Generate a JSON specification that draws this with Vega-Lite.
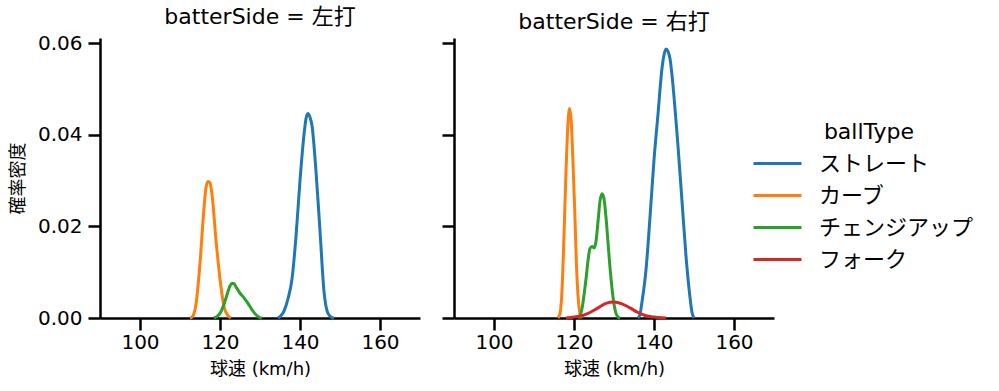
{
  "$schema": "https://vega.github.io/schema/vega-lite/v6.json",
  "background": "white",
  "padding": {"left": 9, "top": 6, "right": 0, "bottom": 0},
  "config": {
    "font": "DejaVu Sans, Noto Sans CJK JP",
    "view": {"stroke": null},
    "axis": {
      "grid": false,
      "domainColor": "black",
      "domainWidth": 2.5,
      "tickColor": "black",
      "tickWidth": 2.5,
      "tickSize": 12,
      "labelFontSize": 20,
      "labelColor": "black",
      "labelFont": "DejaVu Sans, Noto Sans CJK JP",
      "titleFont": "DejaVu Sans, Noto Sans CJK JP",
      "titleFontSize": 18,
      "titleFontWeight": "normal",
      "titleColor": "black"
    },
    "axisX": {"labelPadding": 2, "titlePadding": 8},
    "axisY": {"labelPadding": 6, "titlePadding": 10},
    "title": {"fontSize": 22, "fontWeight": "normal", "color": "black", "offset": 0, "font": "DejaVu Sans, Noto Sans CJK JP"},
    "legend": {"titleFont": "DejaVu Sans, Noto Sans CJK JP", "labelFont": "DejaVu Sans, Noto Sans CJK JP"}
  },
  "data": {
    "values": [
      {"batterSide": "左打", "ballType": "ストレート", "speed": 134.5, "density": 0},
      {"batterSide": "左打", "ballType": "ストレート", "speed": 135, "density": 0.0003},
      {"batterSide": "左打", "ballType": "ストレート", "speed": 136, "density": 0.0015},
      {"batterSide": "左打", "ballType": "ストレート", "speed": 137, "density": 0.0042},
      {"batterSide": "左打", "ballType": "ストレート", "speed": 138, "density": 0.0085},
      {"batterSide": "左打", "ballType": "ストレート", "speed": 139, "density": 0.0178},
      {"batterSide": "左打", "ballType": "ストレート", "speed": 140, "density": 0.030},
      {"batterSide": "左打", "ballType": "ストレート", "speed": 141, "density": 0.040},
      {"batterSide": "左打", "ballType": "ストレート", "speed": 141.5, "density": 0.0435},
      {"batterSide": "左打", "ballType": "ストレート", "speed": 142, "density": 0.0446},
      {"batterSide": "左打", "ballType": "ストレート", "speed": 142.5, "density": 0.0438},
      {"batterSide": "左打", "ballType": "ストレート", "speed": 143, "density": 0.042},
      {"batterSide": "左打", "ballType": "ストレート", "speed": 144, "density": 0.032},
      {"batterSide": "左打", "ballType": "ストレート", "speed": 145, "density": 0.019},
      {"batterSide": "左打", "ballType": "ストレート", "speed": 146, "density": 0.0058},
      {"batterSide": "左打", "ballType": "ストレート", "speed": 147, "density": 0.0010},
      {"batterSide": "左打", "ballType": "ストレート", "speed": 148, "density": 0.0001},
      {"batterSide": "左打", "ballType": "ストレート", "speed": 148.5, "density": 0},
      {"batterSide": "左打", "ballType": "カーブ", "speed": 112.5, "density": 0},
      {"batterSide": "左打", "ballType": "カーブ", "speed": 113, "density": 0.0002},
      {"batterSide": "左打", "ballType": "カーブ", "speed": 114, "density": 0.003},
      {"batterSide": "左打", "ballType": "カーブ", "speed": 115, "density": 0.012},
      {"batterSide": "左打", "ballType": "カーブ", "speed": 116, "density": 0.024},
      {"batterSide": "左打", "ballType": "カーブ", "speed": 116.5, "density": 0.0285},
      {"batterSide": "左打", "ballType": "カーブ", "speed": 117, "density": 0.0298},
      {"batterSide": "左打", "ballType": "カーブ", "speed": 117.5, "density": 0.0295},
      {"batterSide": "左打", "ballType": "カーブ", "speed": 118, "density": 0.027},
      {"batterSide": "左打", "ballType": "カーブ", "speed": 119, "density": 0.017},
      {"batterSide": "左打", "ballType": "カーブ", "speed": 120, "density": 0.0085},
      {"batterSide": "左打", "ballType": "カーブ", "speed": 121, "density": 0.0025},
      {"batterSide": "左打", "ballType": "カーブ", "speed": 122, "density": 0.0005},
      {"batterSide": "左打", "ballType": "カーブ", "speed": 122.7, "density": 0},
      {"batterSide": "左打", "ballType": "チェンジアップ", "speed": 118.5, "density": 0},
      {"batterSide": "左打", "ballType": "チェンジアップ", "speed": 119, "density": 0.0002},
      {"batterSide": "左打", "ballType": "チェンジアップ", "speed": 120, "density": 0.001},
      {"batterSide": "左打", "ballType": "チェンジアップ", "speed": 121, "density": 0.003},
      {"batterSide": "左打", "ballType": "チェンジアップ", "speed": 122, "density": 0.0058},
      {"batterSide": "左打", "ballType": "チェンジアップ", "speed": 122.5, "density": 0.0070},
      {"batterSide": "左打", "ballType": "チェンジアップ", "speed": 123, "density": 0.0076},
      {"batterSide": "左打", "ballType": "チェンジアップ", "speed": 123.5, "density": 0.0075},
      {"batterSide": "左打", "ballType": "チェンジアップ", "speed": 124, "density": 0.0068},
      {"batterSide": "左打", "ballType": "チェンジアップ", "speed": 125, "density": 0.0054},
      {"batterSide": "左打", "ballType": "チェンジアップ", "speed": 126, "density": 0.0044},
      {"batterSide": "左打", "ballType": "チェンジアップ", "speed": 127, "density": 0.0032},
      {"batterSide": "左打", "ballType": "チェンジアップ", "speed": 128, "density": 0.0018},
      {"batterSide": "左打", "ballType": "チェンジアップ", "speed": 129, "density": 0.0007},
      {"batterSide": "左打", "ballType": "チェンジアップ", "speed": 130, "density": 0.0001},
      {"batterSide": "左打", "ballType": "チェンジアップ", "speed": 130.5, "density": 0},
      {"batterSide": "右打", "ballType": "ストレート", "speed": 136, "density": 0},
      {"batterSide": "右打", "ballType": "ストレート", "speed": 136.5, "density": 0.0008},
      {"batterSide": "右打", "ballType": "ストレート", "speed": 137, "density": 0.0035},
      {"batterSide": "右打", "ballType": "ストレート", "speed": 138, "density": 0.0105},
      {"batterSide": "右打", "ballType": "ストレート", "speed": 139, "density": 0.022},
      {"batterSide": "右打", "ballType": "ストレート", "speed": 140, "density": 0.0345},
      {"batterSide": "右打", "ballType": "ストレート", "speed": 141, "density": 0.0445},
      {"batterSide": "右打", "ballType": "ストレート", "speed": 142, "density": 0.0545},
      {"batterSide": "右打", "ballType": "ストレート", "speed": 142.5, "density": 0.0574},
      {"batterSide": "右打", "ballType": "ストレート", "speed": 143, "density": 0.0587},
      {"batterSide": "右打", "ballType": "ストレート", "speed": 143.5, "density": 0.0582},
      {"batterSide": "右打", "ballType": "ストレート", "speed": 144, "density": 0.0566},
      {"batterSide": "右打", "ballType": "ストレート", "speed": 144.5, "density": 0.0530},
      {"batterSide": "右打", "ballType": "ストレート", "speed": 145, "density": 0.0483},
      {"batterSide": "右打", "ballType": "ストレート", "speed": 145.5, "density": 0.0430},
      {"batterSide": "右打", "ballType": "ストレート", "speed": 146, "density": 0.0375},
      {"batterSide": "右打", "ballType": "ストレート", "speed": 147, "density": 0.0255},
      {"batterSide": "右打", "ballType": "ストレート", "speed": 148, "density": 0.0135},
      {"batterSide": "右打", "ballType": "ストレート", "speed": 149, "density": 0.0045},
      {"batterSide": "右打", "ballType": "ストレート", "speed": 149.5, "density": 0.0012},
      {"batterSide": "右打", "ballType": "ストレート", "speed": 150, "density": 0},
      {"batterSide": "右打", "ballType": "カーブ", "speed": 116, "density": 0},
      {"batterSide": "右打", "ballType": "カーブ", "speed": 116.5, "density": 0.001},
      {"batterSide": "右打", "ballType": "カーブ", "speed": 117, "density": 0.006},
      {"batterSide": "右打", "ballType": "カーブ", "speed": 117.5, "density": 0.018},
      {"batterSide": "右打", "ballType": "カーブ", "speed": 118, "density": 0.032},
      {"batterSide": "右打", "ballType": "カーブ", "speed": 118.5, "density": 0.0425},
      {"batterSide": "右打", "ballType": "カーブ", "speed": 118.9, "density": 0.0457},
      {"batterSide": "右打", "ballType": "カーブ", "speed": 119.3, "density": 0.043},
      {"batterSide": "右打", "ballType": "カーブ", "speed": 119.75, "density": 0.034},
      {"batterSide": "右打", "ballType": "カーブ", "speed": 120.2, "density": 0.023},
      {"batterSide": "右打", "ballType": "カーブ", "speed": 120.6, "density": 0.012},
      {"batterSide": "右打", "ballType": "カーブ", "speed": 121, "density": 0.005},
      {"batterSide": "右打", "ballType": "カーブ", "speed": 121.5, "density": 0.001},
      {"batterSide": "右打", "ballType": "カーブ", "speed": 122, "density": 0},
      {"batterSide": "右打", "ballType": "チェンジアップ", "speed": 121, "density": 0},
      {"batterSide": "右打", "ballType": "チェンジアップ", "speed": 121.5, "density": 0.0005},
      {"batterSide": "右打", "ballType": "チェンジアップ", "speed": 122, "density": 0.002},
      {"batterSide": "右打", "ballType": "チェンジアップ", "speed": 122.5, "density": 0.005},
      {"batterSide": "右打", "ballType": "チェンジアップ", "speed": 123, "density": 0.0085},
      {"batterSide": "右打", "ballType": "チェンジアップ", "speed": 123.5, "density": 0.0125},
      {"batterSide": "右打", "ballType": "チェンジアップ", "speed": 124, "density": 0.0152},
      {"batterSide": "右打", "ballType": "チェンジアップ", "speed": 124.5, "density": 0.0156},
      {"batterSide": "右打", "ballType": "チェンジアップ", "speed": 125, "density": 0.0153},
      {"batterSide": "右打", "ballType": "チェンジアップ", "speed": 125.5, "density": 0.0167},
      {"batterSide": "右打", "ballType": "チェンジアップ", "speed": 126, "density": 0.021},
      {"batterSide": "右打", "ballType": "チェンジアップ", "speed": 126.5, "density": 0.0255},
      {"batterSide": "右打", "ballType": "チェンジアップ", "speed": 127, "density": 0.0271},
      {"batterSide": "右打", "ballType": "チェンジアップ", "speed": 127.5, "density": 0.026},
      {"batterSide": "右打", "ballType": "チェンジアップ", "speed": 128, "density": 0.022},
      {"batterSide": "右打", "ballType": "チェンジアップ", "speed": 128.5, "density": 0.0165},
      {"batterSide": "右打", "ballType": "チェンジアップ", "speed": 129, "density": 0.011},
      {"batterSide": "右打", "ballType": "チェンジアップ", "speed": 129.5, "density": 0.0065},
      {"batterSide": "右打", "ballType": "チェンジアップ", "speed": 130, "density": 0.003},
      {"batterSide": "右打", "ballType": "チェンジアップ", "speed": 130.5, "density": 0.001},
      {"batterSide": "右打", "ballType": "チェンジアップ", "speed": 131, "density": 0.0002},
      {"batterSide": "右打", "ballType": "チェンジアップ", "speed": 131.5, "density": 0},
      {"batterSide": "右打", "ballType": "フォーク", "speed": 118, "density": 0},
      {"batterSide": "右打", "ballType": "フォーク", "speed": 120, "density": 0.0002},
      {"batterSide": "右打", "ballType": "フォーク", "speed": 122, "density": 0.0005},
      {"batterSide": "右打", "ballType": "フォーク", "speed": 124, "density": 0.0012},
      {"batterSide": "右打", "ballType": "フォーク", "speed": 126, "density": 0.0022},
      {"batterSide": "右打", "ballType": "フォーク", "speed": 128, "density": 0.0032},
      {"batterSide": "右打", "ballType": "フォーク", "speed": 130, "density": 0.0035},
      {"batterSide": "右打", "ballType": "フォーク", "speed": 132, "density": 0.0031},
      {"batterSide": "右打", "ballType": "フォーク", "speed": 134, "density": 0.0022},
      {"batterSide": "右打", "ballType": "フォーク", "speed": 136, "density": 0.0012},
      {"batterSide": "右打", "ballType": "フォーク", "speed": 138, "density": 0.0005},
      {"batterSide": "右打", "ballType": "フォーク", "speed": 140, "density": 0.0002},
      {"batterSide": "右打", "ballType": "フォーク", "speed": 142, "density": 0.00003},
      {"batterSide": "右打", "ballType": "フォーク", "speed": 143, "density": 0}
    ]
  },
  "spacing": 20,
  "hconcat": [
    {
      "width": 320,
      "height": 280,
      "title": {"text": "batterSide = 左打"},
      "transform": [{"filter": "datum.batterSide === '左打'"}],
      "mark": {"type": "line", "strokeWidth": 3, "interpolate": "monotone"},
      "encoding": {
        "x": {"field": "speed", "type": "quantitative", "scale": {"domain": [90, 170], "nice": false, "zero": false}, "axis": {"values": [100, 120, 140, 160], "title": "球速 (km/h)"}},
        "y": {"field": "density", "type": "quantitative", "scale": {"domain": [0, 0.0611], "nice": false}, "axis": {"values": [0, 0.02, 0.04, 0.06], "format": ".2f", "title": "確率密度"}},
        "color": {"field": "ballType", "type": "nominal",
          "scale": {"domain": ["ストレート", "カーブ", "チェンジアップ", "フォーク"], "range": ["#1f77b4", "#ff7f0e", "#2ca02c", "#d62728"]},
          "legend": {"orient": "none", "legendX": 664, "legendY": 84, "title": "ballType", "titleFontSize": 22, "titleFontWeight": "normal", "titleColor": "black", "titleAnchor": "middle", "labelFontSize": 22, "labelColor": "black", "symbolType": "M-2,0L2,0", "symbolStrokeWidth": 3, "symbolSize": 576, "labelOffset": 28, "rowPadding": 7, "titlePadding": 6}}
      }
    },
    {
      "width": 320,
      "height": 280,
      "title": {"text": "batterSide = 右打"},
      "transform": [{"filter": "datum.batterSide === '右打'"}],
      "mark": {"type": "line", "strokeWidth": 3, "interpolate": "monotone"},
      "encoding": {
        "x": {"field": "speed", "type": "quantitative", "scale": {"domain": [90, 170], "nice": false, "zero": false}, "axis": {"values": [100, 120, 140, 160], "title": "球速 (km/h)"}},
        "y": {"field": "density", "type": "quantitative", "scale": {"domain": [0, 0.0611], "nice": false}, "axis": {"values": [0, 0.02, 0.04, 0.06], "labels": false, "title": null}},
        "color": {"field": "ballType", "type": "nominal",
          "scale": {"domain": ["ストレート", "カーブ", "チェンジアップ", "フォーク"], "range": ["#1f77b4", "#ff7f0e", "#2ca02c", "#d62728"]}}
      }
    }
  ]
}
